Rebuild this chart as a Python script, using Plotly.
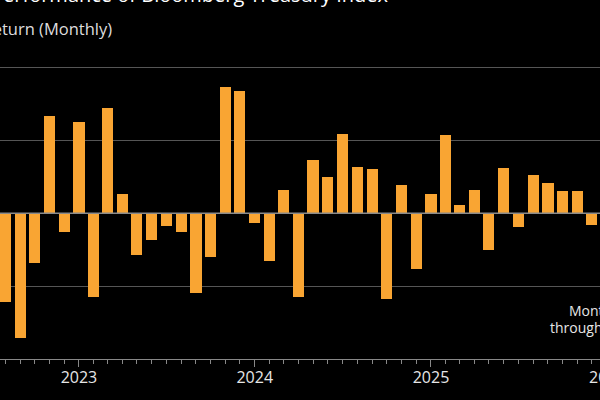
import plotly.graph_objects as go

months = [
    "2022-08-01", "2022-09-01", "2022-10-01", "2022-11-01", "2022-12-01",
    "2023-01-01", "2023-02-01", "2023-03-01", "2023-04-01", "2023-05-01", "2023-06-01",
    "2023-07-01", "2023-08-01", "2023-09-01", "2023-10-01", "2023-11-01", "2023-12-01",
    "2024-01-01", "2024-02-01", "2024-03-01", "2024-04-01", "2024-05-01", "2024-06-01",
    "2024-07-01", "2024-08-01", "2024-09-01", "2024-10-01", "2024-11-01", "2024-12-01",
    "2025-01-01", "2025-02-01", "2025-03-01", "2025-04-01", "2025-05-01", "2025-06-01",
    "2025-07-01", "2025-08-01", "2025-09-01", "2025-10-01", "2025-11-01", "2025-12-01",
]
returns = [
    -2.44, -3.42, -1.37, 2.67, -0.50,
    2.50, -2.31, 2.89, 0.54, -1.14, -0.74,
    -0.34, -0.50, -2.19, -1.20, 3.46, 3.35,
    -0.27, -1.30, 0.64, -2.31, 1.45, 1.00,
    2.18, 1.28, 1.21, -2.36, 0.78, -1.52,
    0.52, 2.15, 0.24, 0.63, -1.01, 1.25,
    -0.38, 1.05, 0.84, 0.61, 0.61, -0.32,
]
title_text = "Performance of Bloomberg Treasury Index"
series_name = "Total Return (Monthly)"
note_lines = ["Month-to-date", "through Dec. 12"]
edge_year_label = "2026"

BAR = "#F9A533"
GRID = "#555555"
FONT = "Open Sans"
DAY_MS = 86400000

fig = go.Figure()
fig.add_trace(go.Bar(
    x=months, y=returns, marker=dict(color=BAR, line=dict(width=0)),
    width=[23 * DAY_MS] * len(months), name=series_name, showlegend=False,
))

fig.update_layout(
    width=600, height=400,
    margin=dict(l=0, r=0, t=53, b=41),
    paper_bgcolor="black", plot_bgcolor="black",
    font=dict(family=FONT, color="#e6e6e6", size=15),
    xaxis=dict(
        type="date", range=["2022-07-21", "2025-12-18"],
        tickformat="%Y", dtick="M12", tick0="2023-01-01",
        ticks="outside", ticklen=7, tickcolor="#888888", tickwidth=1,
        showline=True, linecolor="#888888", linewidth=1,
        showgrid=False, zeroline=False,
        tickfont=dict(size=16, color="#e6e6e6"),
        ticklabelstandoff=-3,
        minor=dict(dtick="M1", tick0="2022-01-01", ticks="outside", ticklen=4,
                   tickcolor="#888888", showgrid=False),
    ),
    yaxis=dict(
        range=[-4, 4.4], dtick=2, tick0=0,
        showgrid=True, gridcolor=GRID, gridwidth=1,
        zeroline=False, showticklabels=False, ticks="",
    ),
    bargap=0,
)

# zero line drawn over the bars
fig.add_hline(y=0, line=dict(color="#8a8a8a", width=1.5), layer="above")

fig.add_annotation(
    text=title_text, xref="paper", yref="paper", x=391 / 600, y=(359 - 10) / 306,
    xanchor="right", yanchor="bottom", showarrow=False,
    font=dict(size=20, color="white", family=FONT),
)
fig.add_annotation(
    text=series_name, xref="paper", yref="paper", x=114 / 600, y=(359 - 28) / 306,
    xanchor="right", yanchor="middle", showarrow=False,
    font=dict(size=16.5, color="#dddddd", family=FONT),
)
fig.add_annotation(
    text=note_lines[0], xref="paper", yref="paper", x=567 / 600, y=(359 - 310) / 306,
    xanchor="left", yanchor="middle", showarrow=False,
    font=dict(size=14, color="#e6e6e6", family=FONT),
)
fig.add_annotation(
    text=note_lines[1], xref="paper", yref="paper", x=548 / 600, y=(359 - 327) / 306,
    xanchor="left", yanchor="middle", showarrow=False,
    font=dict(size=14, color="#e6e6e6", family=FONT),
)
fig.add_annotation(
    text=edge_year_label, xref="paper", yref="paper", x=607 / 600, y=(359 - 377) / 306,
    xanchor="center", yanchor="middle", showarrow=False,
    font=dict(size=16, color="#e6e6e6", family=FONT),
)

fig.write_html("out.html")
